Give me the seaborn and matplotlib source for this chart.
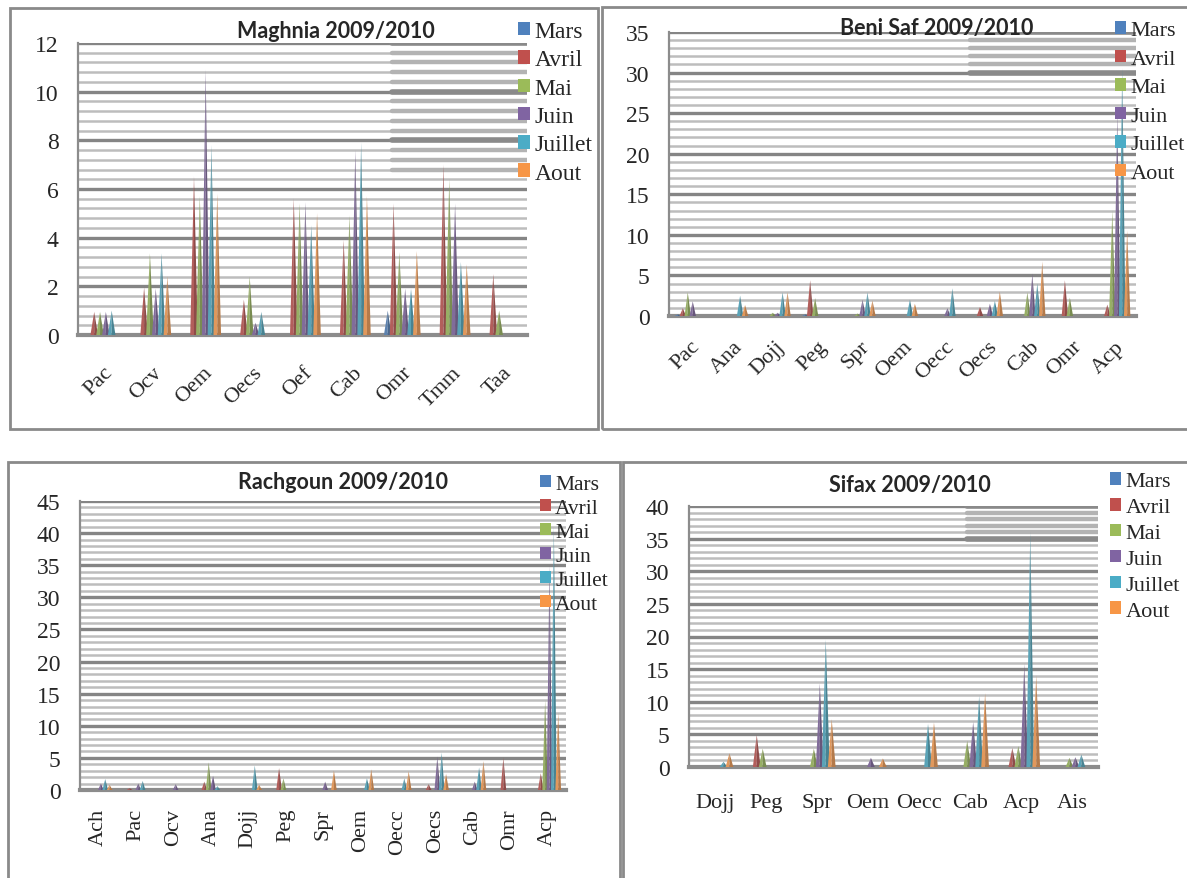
import matplotlib
matplotlib.use('Agg')
import numpy as np
import pandas as pd
import seaborn as sns
import matplotlib.pyplot as plt
import matplotlib.colors as mcolors
from matplotlib.patches import Polygon, Rectangle, Patch
from matplotlib.ticker import MultipleLocator

W, H = 1187, 879

mois = ['Mars', 'Avril', 'Mai', 'Juin', 'Juillet', 'Aout']
couleurs = ['#4F81BD', '#C0504D', '#9BBB59', '#8064A2', '#4BACC6', '#F79646']

# Maghnia 2009/2010
maghnia_esp = ['Pac', 'Ocv', 'Oem', 'Oecs', 'Oef', 'Cab', 'Omr', 'Tmm', 'Taa']
maghnia_mars = [0, 0, 0, 0, 0, 0, 1.0, 0, 0]
maghnia_avril = [0.95, 1.95, 6.5, 1.45, 5.6, 3.9, 5.4, 7.0, 2.5]
maghnia_mai = [0.95, 3.35, 5.7, 2.4, 5.4, 4.9, 3.4, 6.4, 1.0]
maghnia_juin = [0.95, 1.9, 10.9, 0.5, 5.45, 7.6, 1.9, 5.4, 0]
maghnia_juillet = [1.0, 3.35, 7.8, 0.95, 4.5, 7.9, 1.9, 3.0, 0]
maghnia_aout = [0, 2.4, 5.8, 0, 5.0, 5.7, 3.45, 2.9, 0]

# Beni Saf 2009/2010
benisaf_esp = ['Pac', 'Ana', 'Dojj', 'Peg', 'Spr', 'Oem', 'Oecc', 'Oecs', 'Cab', 'Omr', 'Acp']
benisaf_mars = [0.2, 0, 0, 0.2, 0, 0, 0, 0, 0, 0, 0]
benisaf_avril = [0.95, 0, 0, 4.4, 0, 0, 0, 1.1, 0, 4.4, 1.4]
benisaf_mai = [2.9, 0, 0.4, 2.2, 0.3, 0, 0, 0, 2.9, 2.25, 13.0]
benisaf_juin = [1.8, 0, 0.4, 0, 2.0, 0, 0.95, 1.5, 5.2, 0, 25.0]
benisaf_juillet = [0, 2.5, 2.9, 0, 2.9, 2.0, 3.4, 1.85, 4.0, 0, 30.5]
benisaf_aout = [0, 1.35, 2.9, 0, 1.9, 1.5, 0, 3.0, 6.7, 0, 10.5]

# Rachgoun 2009/2010
rachgoun_esp = ['Ach', 'Pac', 'Ocv', 'Ana', 'Dojj', 'Peg', 'Spr', 'Oem', 'Oecc', 'Oecs', 'Cab', 'Omr', 'Acp']
rachgoun_mars = [0, 0, 0, 0, 0, 0, 0, 0, 0, 0, 0, 0, 0]
rachgoun_avril = [0, 0.3, 0, 1.3, 0, 3.4, 0, 0, 0, 0.9, 0, 5.0, 2.6]
rachgoun_mai = [0, 0, 0, 4.3, 0, 1.8, 0, 0, 0, 0, 0, 0, 14.0]
rachgoun_juin = [1.0, 1.0, 0.9, 2.2, 0, 0, 1.3, 0, 0, 5.2, 1.3, 0, 35.0]
rachgoun_juillet = [1.7, 1.4, 0, 0.6, 3.8, 0, 0, 1.8, 1.8, 5.8, 3.5, 0, 41.0]
rachgoun_aout = [0.8, 0, 0, 0, 0.8, 0, 3.0, 3.2, 2.9, 2.5, 4.5, 0, 12.0]

# Sifax 2009/2010
sifax_esp = ['Dojj', 'Peg', 'Spr', 'Oem', 'Oecc', 'Cab', 'Acp', 'Ais']
sifax_mars = [0, 0, 0, 0, 0, 0, 0, 0]
sifax_avril = [0, 4.9, 0, 0, 0, 0, 2.9, 0]
sifax_mai = [0, 2.8, 2.8, 0, 0, 4.0, 3.2, 1.4]
sifax_juin = [0, 0, 12.8, 1.4, 0, 6.9, 15.8, 1.5]
sifax_juillet = [0.8, 0, 19.5, 0, 6.6, 10.9, 35.9, 1.9]
sifax_aout = [2.1, 0, 7.3, 1.3, 6.8, 11.3, 14.0, 0]


def to_long(esp, series):
    rows = []
    for m, vals in zip(mois, series):
        for e, v in zip(esp, vals):
            rows.append({'espece': e, 'mois': m, 'val': v})
    return pd.DataFrame(rows)


def px_rect(l, r, t, b):
    return [l / W, 1 - b / H, (r - l) / W, (b - t) / H]


def cones(ax):
    # turn seaborn's bars into flat cones (triangles), like the Excel 3D cones
    for p in list(ax.patches):
        x, w, h = p.get_x(), p.get_width(), p.get_height()
        c = p.get_facecolor()
        p.set_visible(False)
        if h <= 0:
            continue
        xm = x + w / 2
        dark = tuple(np.array(mcolors.to_rgb(c)) * 0.8)
        ax.add_patch(Polygon([(x - w * 0.15, 0), (xm, h), (xm, 0)], closed=True,
                             facecolor=c, edgecolor='none', zorder=3))
        ax.add_patch(Polygon([(xm, 0), (xm, h), (x + w * 1.15, 0)], closed=True,
                             facecolor=dark, edgecolor='none', zorder=3))


def panel(fig, rect, df, ymax, major, minor, rot, xpad, title, title_xy,
          leg_xy, leg_fs, leg_sp, ghost=None):
    ax = fig.add_axes(px_rect(*rect))
    sns.barplot(data=df, x='espece', y='val', hue='mois', palette=couleurs,
                width=0.7, ax=ax, legend=False, errorbar=None)
    cones(ax)
    ax.set_ylim(0, ymax)
    ax.yaxis.set_major_locator(MultipleLocator(major))
    ax.yaxis.set_minor_locator(MultipleLocator(minor))
    ax.grid(which='minor', axis='y', color='#bdbdbd', lw=1.8)
    ax.grid(which='major', axis='y', color='#858585', lw=2.4)
    ax.set_axisbelow(True)
    ax.set_xlabel('')
    ax.set_ylabel('')

    # darker, thicker copy of the wall lines behind the legend (as in the scan)
    if ghost is not None:
        x0, ylo = ghost
        for y in np.arange(ylo, ymax + minor / 2, minor):
            is_major = abs(y / major - round(y / major)) < 1e-6
            ax.axhline(y, x0, 1, color='#8a8a8a' if is_major else '#b3b3b3',
                       lw=4 if is_major else 3.2, zorder=0.6)

    for s in ['top', 'right']:
        ax.spines[s].set_visible(False)
    ax.spines['left'].set_color('#8c8c8c')
    ax.spines['left'].set_linewidth(1.6)
    ax.spines['bottom'].set_color('#8c8c8c')
    ax.spines['bottom'].set_linewidth(3)
    ax.tick_params(axis='y', which='major', length=6, color='#8c8c8c', width=1.4,
                   labelsize=17, pad=8)
    ax.tick_params(axis='y', which='minor', length=0)
    ax.tick_params(axis='x', length=0, labelsize=16, pad=xpad)
    if rot == 45:
        for lab in ax.get_xticklabels():
            lab.set_rotation(45)
            lab.set_ha('right')
            lab.set_rotation_mode('anchor')
    elif rot == 90:
        for lab in ax.get_xticklabels():
            lab.set_rotation(90)

    fig.text(title_xy[0] / W, 1 - title_xy[1] / H, title, ha='center', va='center',
             fontsize=15.5, fontweight='bold', family='Lato')

    handles = [Patch(facecolor=c, edgecolor='none') for c in couleurs]
    ax.legend(handles, mois, loc='upper left',
              bbox_to_anchor=(leg_xy[0] / W, 1 - leg_xy[1] / H),
              bbox_transform=fig.transFigure, frameon=False, borderpad=0,
              borderaxespad=0, handlelength=0.5, handleheight=0.5,
              handletextpad=0.2, labelspacing=leg_sp,
              prop={'family': 'Liberation Serif', 'size': leg_fs})
    return ax


sns.set_style('white')
plt.rcParams['font.family'] = ['Liberation Serif', 'DejaVu Serif']
fig = plt.figure(figsize=(W / 100, H / 100), dpi=100)
fig.patch.set_facecolor('white')

# panel frames
for (x0, y0, x1, y1) in [(10, 9, 598, 430), (602, 8, 1190, 430),
                         (8, 463, 620, 885), (623, 463, 1190, 885)]:
    fig.add_artist(Rectangle((x0 / W, 1 - y1 / H), (x1 - x0) / W, (y1 - y0) / H,
                             transform=fig.transFigure, fill=False,
                             ec='#8a8a8a', lw=2))

panel(fig, (78, 527, 44, 336),
      to_long(maghnia_esp, [maghnia_mars, maghnia_avril, maghnia_mai,
                            maghnia_juin, maghnia_juillet, maghnia_aout]),
      12, 2, 0.4, 45, 20, 'Maghnia 2009/2010', (336, 31), (518, 22), 17, 0.31,
      ghost=(0.70, 6.8))

panel(fig, (669, 1136, 33, 317),
      to_long(benisaf_esp, [benisaf_mars, benisaf_avril, benisaf_mai,
                            benisaf_juin, benisaf_juillet, benisaf_aout]),
      35, 5, 1, 45, 15, 'Beni Saf 2009/2010', (937, 29), (1115, 22), 16, 0.42,
      ghost=(0.645, 30))

panel(fig, (80, 566, 502, 791),
      to_long(rachgoun_esp, [rachgoun_mars, rachgoun_avril, rachgoun_mai,
                             rachgoun_juin, rachgoun_juillet, rachgoun_aout]),
      45, 5, 1, 90, 13, 'Rachgoun 2009/2010', (343, 483), (540, 476), 15.5, 0.23)

panel(fig, (689, 1098, 507, 768),
      to_long(sifax_esp, [sifax_mars, sifax_avril, sifax_mai,
                          sifax_juin, sifax_juillet, sifax_aout]),
      40, 5, 1, 0, 19, 'Sifax 2009/2010', (910, 486), (1110, 473), 16, 0.3,
      ghost=(0.68, 35))

fig.savefig('out.png', dpi=100)
